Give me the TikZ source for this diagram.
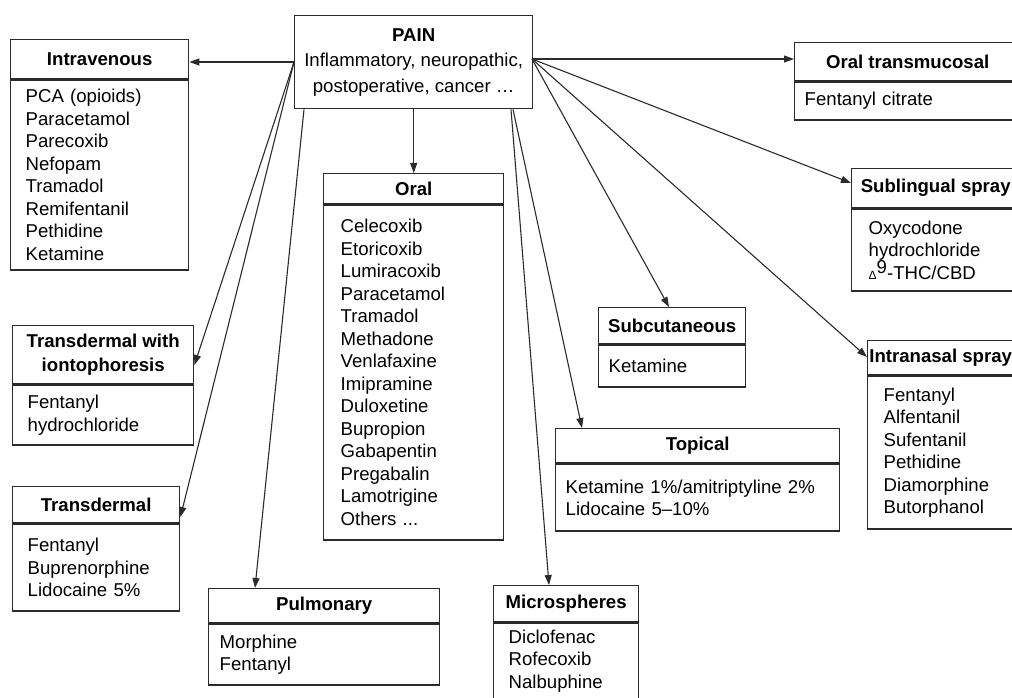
\documentclass[tikz,border=0pt]{standalone}
\usepackage{fontspec}
\setmainfont{Liberation Sans}
\usepackage{xcolor}
\usetikzlibrary{arrows.meta,positioning}
\definecolor{cInk}{HTML}{2B2B2B}
\tikzset{
  >={Triangle[length=10pt,width=7pt]},
  pbox/.style={draw=cInk,line width=1.4pt,anchor=north west,align=center,
               inner sep=0pt,font=\fontsize{18.6}{25.5}\selectfont},
  hd/.style  ={draw=cInk,line width=1.4pt,anchor=north west,align=center,
               inner sep=0pt,font=\fontsize{18.6}{23.5}\selectfont\bfseries},
  bd/.style  ={draw=cInk,line width=1.4pt,anchor=north west,align=left,
               inner ysep=0pt,font=\fontsize{18.6}{22.5}\selectfont},
  ar/.style  ={->,line width=1.1pt,cInk},
}

\begin{document}
\begin{tikzpicture}[x=1pt,y=-1pt]
\useasboundingbox (0,0) rectangle (1012,698);
\clip (0,0) rectangle (1012,698);
% centre
\node[pbox,minimum width=238,minimum height=93] (pain) at (294,15)
  {\textbf{PAIN}\\Inflammatory, neuropathic,\\postoperative, cancer \ldots};
\coordinate (lfan) at (294,62);
\coordinate (rfan) at (532,59);
% left column
\node[hd,minimum width=178,minimum height=39] (ivh) at (10,39) {Intravenous};
\node[bd,inner xsep=15,text width=148,minimum height=190] (ivb) at (ivh.south west)
  {PCA (opioids)\\Paracetamol\\Parecoxib\\Nefopam\\Tramadol\\Remifentanil\\Pethidine\\Ketamine};
\node[hd,minimum width=181,minimum height=58] (ioh) at (12,325) {Transdermal with\\iontophoresis};
\node[bd,inner xsep=15,text width=151,minimum height=60] (iob) at (ioh.south west)
  {Fentanyl\\hydrochloride};
\node[hd,minimum width=167,minimum height=36] (tdh) at (12,486) {Transdermal};
\node[bd,inner xsep=15,text width=137,minimum height=87] (tdb) at (tdh.south west)
  {Fentanyl\\Buprenorphine\\Lidocaine 5\%};
% middle
\node[hd,minimum width=231,minimum height=34] (puh) at (208,588) {Pulmonary};
\node[bd,inner xsep=11,text width=209,minimum height=61] (pub) at (puh.south west)
  {Morphine\\Fentanyl};
\node[hd,minimum width=180,minimum height=30] (orh) at (323,173) {Oral};
\node[bd,inner xsep=17,text width=146,minimum height=335] (orb) at (orh.south west)
  {Celecoxib\\Etoricoxib\\Lumiracoxib\\Paracetamol\\Tramadol\\Methadone\\Venlafaxine\\Imipramine\\Duloxetine\\Bupropion\\Gabapentin\\Pregabalin\\Lamotrigine\\Others ...};
\node[hd,minimum width=145,minimum height=36] (mih) at (493,585) {Microspheres};
\node[bd,inner xsep=15,text width=115,minimum height=90,text depth=63pt] (mib) at (mih.south west)
  {Diclofenac\\Rofecoxib\\Nalbuphine};
\node[hd,minimum width=284,minimum height=34] (toh) at (555,428) {Topical};
\node[bd,inner xsep=10,text width=264,minimum height=67] (tob) at (toh.south west)
  {Ketamine 1\%/amitriptyline 2\%\\Lidocaine 5--10\%};
\node[hd,minimum width=147,minimum height=36] (suh) at (598,307) {Subcutaneous};
\node[bd,inner xsep=10,text width=127,minimum height=42] (sub) at (suh.south west)
  {Ketamine};
% right column
\node[hd,minimum width=226,minimum height=38] (omh) at (794,42) {Oral transmucosal};
\node[bd,inner xsep=10,text width=206,minimum height=38] (omb) at (omh.south west)
  {Fentanyl citrate};
\node[hd,minimum width=168,minimum height=39] (slh) at (851,168) {Sublingual spray};
\node[bd,inner xsep=17,text width=134,minimum height=82] (slb) at (slh.south west)
  {Oxycodone\\hydrochloride\\{\fontsize{12}{12}\selectfont Δ}\raisebox{0.3em}{9}-THC/CBD};
\node[hd,minimum width=146,minimum height=34] (inh) at (867,340) {Intranasal spray};
\node[bd,inner xsep=16,text width=114,minimum height=153] (inb) at (inh.south west)
  {Fentanyl\\Alfentanil\\Sufentanil\\Pethidine\\Diamorphine\\Butorphanol};
% routes
\draw[ar] (lfan) -- (ivh.east |- lfan);
\draw[ar] (lfan) -- (ioh.east |- 0,365);
\draw[ar] (lfan) -- (tdh.east |- 0,517);
\draw[ar] (pain.south -| 304,0) -- (puh.north -| 255,0);
\draw[ar] (pain.south -| orh.north) -- (orh.north);
\draw[ar] (pain.south -| 511,0) -- (mih.north -| 549,0);
\draw[ar] (pain.south -| 513,0) -- (toh.north -| 582,0);
\draw[ar] (rfan) -- (suh.north -| 669,0);
\draw[ar] (rfan) -- (omh.west |- rfan);
\draw[ar] (rfan) -- (slh.west |- 0,183);
\draw[ar] (rfan) -- (inh.west |- 0,357);
\end{tikzpicture}
\end{document}
